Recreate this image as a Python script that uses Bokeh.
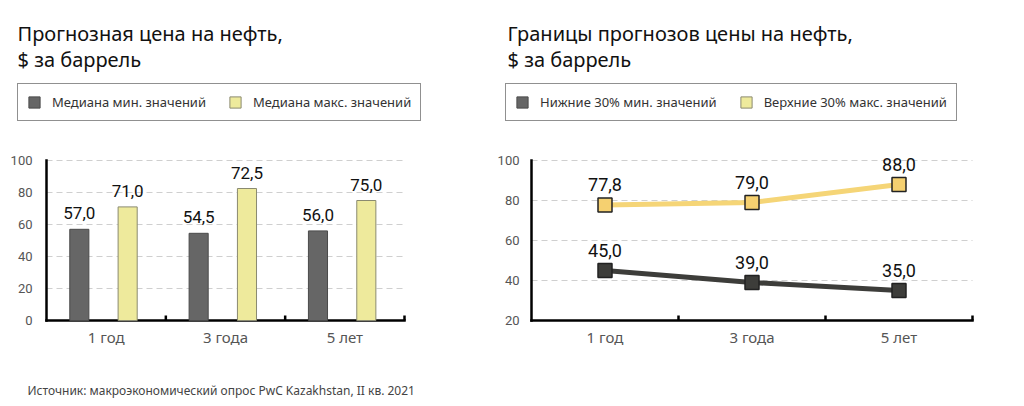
from bokeh.plotting import figure
from bokeh.models import (ColumnDataSource, Label, LabelSet, Legend, LegendItem,
                          Range1d)
from bokeh.core.properties import value
from bokeh.layouts import row
from bokeh.embed import file_html
from bokeh.resources import INLINE

# ---------------- data ----------------
periods = ["1 год", "3 года", "5 лет"]
median_min = [57.0, 54.5, 56.0]
median_max = [71.0, 82.5, 75.0]          # bar heights as drawn
median_min_labels = ["57,0", "54,5", "56,0"]
median_max_labels = ["71,0", "72,5", "75,0"]
left_yticks = [0, 20, 40, 60, 80, 100]

low30_min = [45.0, 39.0, 35.0]
high30_max = [77.8, 79.0, 88.0]
low30_labels = ["45,0", "39,0", "35,0"]
high30_labels = ["77,8", "79,0", "88,0"]
right_yticks = [20, 40, 60, 80, 100]

left_title = ["Прогнозная цена на нефть,", "$ за баррель"]
right_title = ["Границы прогнозов цены на нефть,", "$ за баррель"]
left_legend = ["Медиана мин. значений", "Медиана макс. значений"]
right_legend = ["Нижние 30% мин. значений", "Верхние 30% макс. значений"]
source_note = "Источник: макроэкономический опрос PwC Kazakhstan, II кв. 2021"

# ---------------- styles ----------------
H = 406
DARK_BAR = "#666666"
YELLOW_BAR = "#eeea9c"
DARK_LINE = "#3d3d3a"
YELLOW_LINE = "#f5d577"
YELLOW_MARK = "#f5d070"
TXT_FONT = "Noto Sans"
NUM_FONT = "Roboto"
N = len(periods)
xc = [i + 0.5 for i in range(N)]


def make_fig(width, x_start, x_end, y_start, y_end):
    p = figure(width=width, height=H, output_backend="svg", toolbar_location=None,
               x_range=Range1d(x_start, x_end), y_range=Range1d(y_start, y_end),
               min_border=0)
    p.xaxis.visible = False
    p.yaxis.visible = False
    p.grid.visible = False
    p.outline_line_color = None
    p.background_fill_color = "white"
    p.border_fill_color = "white"
    return p


def draw_axes(p, yticks, label_dx, px_x, px_y):
    n = len(yticks)
    y0 = yticks[0]
    # dashed grid lines (not on the baseline)
    p.segment(x0=[0] * (n - 1), x1=[N] * (n - 1), y0=yticks[1:], y1=yticks[1:],
              line_color="#cfcfcf", line_dash="6 4", line_width=1)
    # y tick labels
    p.text(x=[0] * n, y=yticks, text=[str(t) for t in yticks], x_offset=label_dx,
           text_align="right", text_baseline="middle", text_font=value(NUM_FONT),
           text_font_size="13px", text_color="#555555")
    # category labels
    p.text(x=xc, y=[y0] * N, text=periods, y_offset=16,
           text_align="center", text_baseline="alphabetic", text_font=value(TXT_FONT),
           text_font_size="15px", text_color="#555555")
    # category separator ticks (pointing up, ~5px)
    p.vbar(x=list(range(1, N + 1)), bottom=y0, top=y0 + 5 / px_y, width=2.5 / px_x,
           fill_color="black", line_color=None)
    # axis lines
    p.segment(x0=[0, 0], x1=[0, N], y0=[y0, y0], y1=[yticks[-1], y0],
              line_color="black", line_width=2.5, line_cap="square")


def add_title(p, lines):
    for i, t in enumerate(lines):
        p.add_layout(Label(x=17, y=H - 33 - 26 * i, x_units="screen", y_units="screen",
                           text=t, text_font=TXT_FONT, text_font_size="20px",
                           text_color="#111111", text_baseline="alphabetic"))


def style_legend(leg):
    leg.border_line_color = "#222222"
    leg.border_line_width = 1.5
    leg.background_fill_color = "white"
    leg.background_fill_alpha = 1
    leg.glyph_width = 14
    leg.glyph_height = 14
    leg.label_standoff = 11
    leg.spacing = 22
    leg.padding = 9
    leg.margin = 0
    leg.label_text_font = TXT_FONT
    leg.label_text_font_size = "13px"
    leg.label_text_color = "#333333"
    leg.label_height = 16


# ---------------- left chart ----------------
# frame = whole canvas: value 0 at y=320px, 100 at y=160px; x 0..3 at 46..404px
LPX_X, LPX_Y = 119.333, 1.6
pl = make_fig(490, -46 / LPX_X, 3 + 86 / LPX_X, -(H - 320) / LPX_Y, 320 / LPX_Y)
draw_axes(pl, left_yticks, -14, LPX_X, LPX_Y)

src_min = ColumnDataSource(dict(x=[v - 0.225 for v in xc], y=median_min, t=median_min_labels))
src_max = ColumnDataSource(dict(x=[v + 0.18 for v in xc], y=median_max, t=median_max_labels))
r_min = pl.vbar(x="x", top="y", bottom=0, width=0.16, source=src_min, fill_color=DARK_BAR,
                line_color="#4a4a4a", line_width=1)
r_max = pl.vbar(x="x", top="y", bottom=0, width=0.16, source=src_max, fill_color=YELLOW_BAR,
                line_color="#8a8a70", line_width=1)
for s in (src_min, src_max):
    pl.add_layout(LabelSet(x="x", y="y", text="t", source=s, y_offset=10,
                           text_align="center", text_baseline="bottom",
                           text_font=value(NUM_FONT), text_font_size="17px",
                           text_color="#111111"))

leg_l = Legend(items=[LegendItem(label=left_legend[0], renderers=[r_min]),
                      LegendItem(label=left_legend[1], renderers=[r_max])],
               orientation="horizontal", location=(17, H - 121))
style_legend(leg_l)
pl.add_layout(leg_l)
add_title(pl, left_title)
pl.add_layout(Label(x=27, y=H - 390, x_units="screen", y_units="screen",
                    text=source_note, text_font=TXT_FONT, text_font_size="12px",
                    text_color="#444444", text_baseline="alphabetic"))

# ---------------- right chart ----------------
# value 20 at y=320px, 100 at y=160px; x 0..3 at 41..482px
RPX_X, RPX_Y = 147.0, 2.0
pr = make_fig(534, -41 / RPX_X, 3 + 52 / RPX_X, 20 - (H - 320) / RPX_Y, 20 + 320 / RPX_Y)
draw_axes(pr, right_yticks, -12, RPX_X, RPX_Y)

src_lo = ColumnDataSource(dict(x=xc, y=low30_min, t=low30_labels))
src_hi = ColumnDataSource(dict(x=xc, y=high30_max, t=high30_labels))
pr.line("x", "y", source=src_hi, line_color=YELLOW_LINE, line_width=5)
pr.line("x", "y", source=src_lo, line_color=DARK_LINE, line_width=5)
pr.scatter("x", "y", source=src_hi, marker="square", size=14,
           fill_color=YELLOW_MARK, line_color="#222222", line_width=1.5)
pr.scatter("x", "y", source=src_lo, marker="square", size=14,
           fill_color=DARK_LINE, line_color="#222222", line_width=1.5)
for s in (src_lo, src_hi):
    pr.add_layout(LabelSet(x="x", y="y", text="t", source=s, y_offset=14,
                           text_align="center", text_baseline="bottom",
                           text_font=value(NUM_FONT), text_font_size="18px",
                           text_color="#111111"))

# legend proxies (no visible data)
proxy = ColumnDataSource(dict(x=[xc[0]], y=[float("nan")]))
d1 = pr.vbar(x="x", top="y", bottom="y", width=0.1, source=proxy, fill_color=DARK_BAR,
             line_color="#4a4a4a")
d2 = pr.vbar(x="x", top="y", bottom="y", width=0.1, source=proxy, fill_color=YELLOW_BAR,
             line_color="#8a8a70")
leg_r = Legend(items=[LegendItem(label=right_legend[0], renderers=[d1]),
                      LegendItem(label=right_legend[1], renderers=[d2])],
               orientation="horizontal", location=(15, H - 121))
style_legend(leg_r)
pr.add_layout(leg_r)
add_title(pr, right_title)

layout = row(pl, pr)
open("out.html", "w").write(file_html(layout, INLINE))
